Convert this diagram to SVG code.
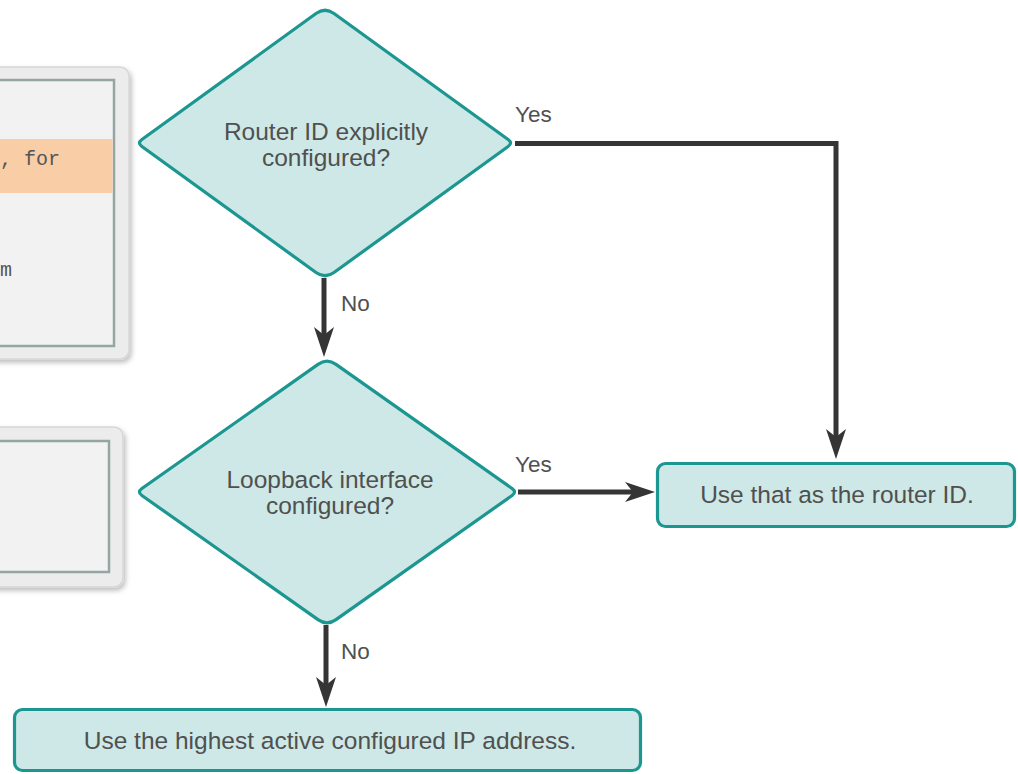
<svg xmlns="http://www.w3.org/2000/svg" width="1018" height="774" viewBox="0 0 1018 774">
<style>
.shape{fill:#cde8e6;stroke:#1c9690;stroke-width:3.2}
.lbl{font-family:"Liberation Sans",Arial,sans-serif;font-size:24.5px;fill:#505050;text-anchor:middle}
.yn{font-family:"Liberation Sans",Arial,sans-serif;font-size:22.5px;fill:#505050}
.conn{fill:none;stroke:#353535;stroke-width:5}
.panel{fill:#ececec;stroke:#d6d6d6;stroke-width:1.5}
.inner{fill:#f2f2f2;stroke:#94a6a3;stroke-width:2.5}
.code{font-family:"Liberation Mono","Courier New",monospace;font-size:20px;fill:#555}
</style>
<defs>
<filter id="sh" x="-20%" y="-20%" width="140%" height="140%">
<feDropShadow dx="2" dy="3" stdDeviation="2.5" flood-color="#000" flood-opacity="0.25"/>
</filter>
<marker id="ah" markerUnits="userSpaceOnUse" markerWidth="32" markerHeight="22" viewBox="0 0 32 22" refX="8" refY="11" orient="auto">
<path d="M0,1 L30,11 L0,21 L8,11 Z" fill="#353535"/>
</marker>
</defs>
<rect width="1018" height="774" fill="#ffffff"/>

<g id="panel1">
<rect class="panel" x="-20" y="67" width="149" height="292" rx="9" filter="url(#sh)"/>
<rect class="inner" x="-10" y="80" width="124" height="266"/>
<rect x="0" y="139" width="112.5" height="54" fill="#f9cda6"/>
<text class="code" x="0" y="165">, for</text>
<text class="code" x="0" y="276" font-size="15">m</text>
</g>

<g id="panel2">
<rect class="panel" x="-20" y="427" width="143" height="160" rx="9" filter="url(#sh)"/>
<rect class="inner" x="-10" y="441" width="119" height="131"/>
</g>

<g id="decision1">
<path class="shape" d="M316,13.5 Q325,7 334,13.5 L508.1,139.5 Q513,143 508.1,146.5 L334,272.5 Q325,279 316,272.5 L141.9,146.5 Q137,143 141.9,139.5 Z"/>
<text class="lbl" x="326" y="140">Router ID explicitly</text>
<text class="lbl" x="326" y="166">configured?</text>
</g>

<g id="decision2">
<path class="shape" d="M318,364.4 Q327,358 336,364.4 L512.1,488.5 Q517,492 512.1,495.5 L336,619.6 Q327,626 318,619.6 L141.9,495.5 Q137,492 141.9,488.5 Z"/>
<text class="lbl" x="330" y="488">Loopback interface</text>
<text class="lbl" x="330" y="514">configured?</text>
</g>

<g id="useRouterId">
<rect class="shape" x="657.5" y="463.5" width="357" height="63" rx="8"/>
<text class="lbl" x="837" y="503">Use that as the router ID.</text>
</g>

<g id="useHighestIp">
<rect class="shape" x="14.5" y="709.5" width="626" height="61" rx="8"/>
<text class="lbl" x="330" y="749">Use the highest active configured IP address.</text>
</g>

<g id="connectors">
<path class="conn" d="M515,143.5 H836 V437" marker-end="url(#ah)"/>
<path class="conn" d="M324,278 V335" marker-end="url(#ah)"/>
<path class="conn" d="M518,492 H633" marker-end="url(#ah)"/>
<path class="conn" d="M326,625 V685" marker-end="url(#ah)"/>
<text class="yn" x="515" y="122">Yes</text>
<text class="yn" x="341" y="311">No</text>
<text class="yn" x="515" y="472">Yes</text>
<text class="yn" x="341" y="659">No</text>
</g>
</svg>
